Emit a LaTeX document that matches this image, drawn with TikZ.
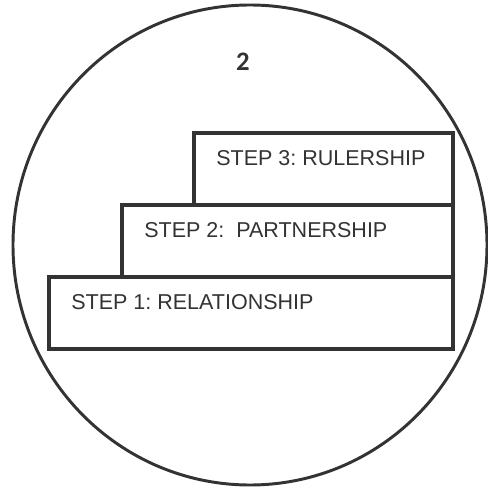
\documentclass[tikz,border=0pt]{standalone}
\usepackage{fontspec}
\setmainfont{Liberation Sans}
\newfontfamily\numfont{Carlito}
\usepackage{tikz}
\definecolor{ink}{HTML}{333333}
\frenchspacing

\begin{document}
\begin{tikzpicture}[
  stepbox/.style={draw=ink,line width=2.8pt,inner sep=0pt},
  steplabel/.style={anchor=base west,inner sep=0pt,text=ink,font=\fontsize{15.3}{18}\selectfont}]
\useasboundingbox (0,0) rectangle (12.2,12.2);

\draw[ink,line width=2.1pt] (6.25,6.075) ellipse [x radius=5.925, y radius=6];

\node[anchor=base,inner sep=0pt,text=ink,font=\numfont\bfseries\fontsize{19}{22}\selectfont] (0) at (6.075,10.44) {2};

\node[stepbox,minimum width=6.475cm,minimum height=1.8cm] (3) at (8.0875,7.975) {};
\node[stepbox,minimum width=8.275cm,minimum height=1.8cm] (2) at (7.1875,6.175) {};
\node[stepbox,minimum width=10.1cm,minimum height=1.8cm] (1) at (6.275,4.375) {};

\node[steplabel] (l3) at (5.4,8.07) {STEP 3: RULERSHIP};
\node[steplabel] (l2) at (3.6,6.25) {STEP 2:\ \ PARTNERSHIP};
\node[steplabel] (l1) at (1.775,4.45) {STEP 1: RELATIONSHIP};
\end{tikzpicture}
\end{document}
